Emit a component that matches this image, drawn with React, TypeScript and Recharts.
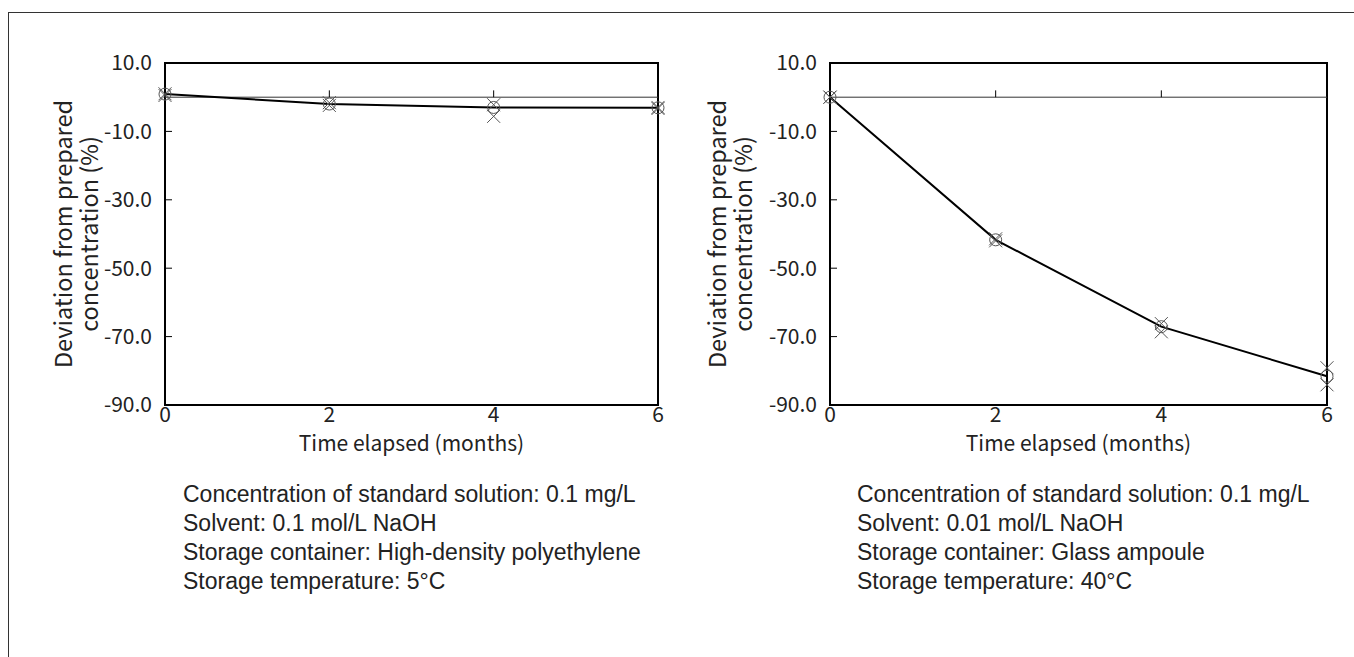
import React from "react"
import {
  LineChart,
  Line,
  XAxis,
  YAxis,
  ReferenceArea,
  ReferenceLine,
} from "recharts"

const months = [0, 2, 4, 6]
const xTicks = [0, 2, 4, 6]
const yTicks = [10, -10, -30, -50, -70, -90]
const zeroTicks = [2, 4]

// HDPE, 5°C
const hdpeMean = [0.9, -2.0, -3.0, -3.1]
const hdpeRepA = [1.0, -1.6, -2.2, -3.0]
const hdpeRepB = [0.5, -2.4, -5.6, -3.3]

// glass ampoule, 40°C
const ampMean = [0, -41.7, -67.1, -81.6]
const ampRepA = [0, -41.4, -66.2, -79.1]
const ampRepB = [0, -42.0, -68.6, -84.1]

const leftNotes = [
  "Concentration of standard solution: 0.1 mg/L",
  "Solvent: 0.1 mol/L NaOH",
  "Storage container: High-density polyethylene",
  "Storage temperature: 5°C",
]
const rightNotes = [
  "Concentration of standard solution: 0.1 mg/L",
  "Solvent: 0.01 mol/L NaOH",
  "Storage container: Glass ampoule",
  "Storage temperature: 40°C",
]

const CHART_FONT = "'Noto Sans CJK JP', 'Noto Sans', sans-serif"
const NOTE_FONT = "'Liberation Sans', Arial, sans-serif"

const makeRows = (mean: number[], a: number[], b: number[]) =>
  months.map((m, i) => ({ month: m, mean: mean[i], a: a[i], b: b[i] }))

const XMark = (props: any) => {
  const { cx, cy, index } = props
  if (cx == null || cy == null) return <g key={`n-${index}`} />
  const s = 6.5
  return (
    <g key={`x-${index}`} stroke="#555" strokeWidth={1}>
      <line x1={cx - s} y1={cy - s} x2={cx + s} y2={cy + s} />
      <line x1={cx - s} y1={cy + s} x2={cx + s} y2={cy - s} />
    </g>
  )
}

function Panel({
  rows,
  left,
  rightMargin,
  titleOffset,
}: {
  rows: any[]
  left: number
  rightMargin: number
  titleOffset: number
}) {
  const yTitle = (props: any) => {
    const vb = props.viewBox
    const cy = vb.y + vb.height / 2
    const x1 = vb.x + vb.width + titleOffset
    const x2 = x1 + 26
    return (
      <g fontFamily={CHART_FONT} fontSize={23.5} fill="#222">
        <text x={x1} y={cy} textAnchor="middle" dominantBaseline="central" transform={`rotate(-90 ${x1} ${cy})`}>
          Deviation from prepared
        </text>
        <text x={x2} y={cy} textAnchor="middle" dominantBaseline="central" transform={`rotate(-90 ${x2} ${cy})`}>
          concentration (%)
        </text>
      </g>
    )
  }

  return (
    <div style={{ position: "absolute", left, top: 0 }}>
      <LineChart
        width={700}
        height={500}
        data={rows}
        margin={{ top: 63, right: rightMargin, bottom: 65, left: 105 }}
      >
        <XAxis
          dataKey="month"
          type="number"
          domain={[0, 6]}
          ticks={xTicks}
          axisLine={false}
          tickLine={false}
          tickSize={0}
          tickMargin={2}
          height={30}
          tick={{ fontSize: 21, fill: "#222", fontFamily: CHART_FONT }}
          label={{
            value: "Time elapsed (months)",
            position: "bottom",
            offset: 1,
            fontSize: 21,
            fill: "#222",
            fontFamily: CHART_FONT,
          }}
        />
        <YAxis
          type="number"
          domain={[-90, 10]}
          ticks={yTicks}
          interval={0}
          width={60}
          axisLine={false}
          tickLine={{ stroke: "#000", strokeWidth: 1 }}
          tickSize={-7}
          tickMargin={20}
          tickFormatter={(v: number) => v.toFixed(1)}
          tick={{ fontSize: 21, fill: "#222", fontFamily: CHART_FONT }}
          label={{ content: yTitle }}
        />
        <ReferenceLine y={0} stroke="#333" strokeWidth={1} />
        {zeroTicks.map((t) => (
          <ReferenceLine
            key={t}
            segment={[
              { x: t, y: 0 },
              { x: t, y: 2 },
            ]}
            stroke="#000"
            strokeWidth={1}
          />
        ))}
        <ReferenceArea
          x1={0}
          x2={6}
          y1={-90}
          y2={10}
          fill="none"
          stroke="#000"
          strokeWidth={2}
          fillOpacity={0}
        />
        <Line dataKey="a" stroke="none" dot={XMark} activeDot={false} isAnimationActive={false} />
        <Line dataKey="b" stroke="none" dot={XMark} activeDot={false} isAnimationActive={false} />
        <Line
          dataKey="mean"
          stroke="#000"
          strokeWidth={2}
          dot={{ r: 6, fill: "none", stroke: "#555", strokeWidth: 1 }}
          activeDot={false}
          isAnimationActive={false}
        />
      </LineChart>
    </div>
  )
}

function Notes({ lines, left }: { lines: string[]; left: number }) {
  return (
    <div
      style={{
        position: "absolute",
        left,
        top: 480,
        fontFamily: NOTE_FONT,
        fontSize: 23,
        lineHeight: "29px",
        color: "#222",
        whiteSpace: "nowrap",
      }}
    >
      {lines.map((l) => (
        <div key={l}>{l}</div>
      ))}
    </div>
  )
}

export default function App() {
  return (
    <div
      style={{
        position: "absolute",
        left: 0,
        top: 0,
        width: 1354,
        height: 657,
        overflow: "hidden",
        background: "#fff",
      }}
    >
      <div
        style={{
          position: "absolute",
          left: 8,
          top: 12,
          width: 1400,
          height: 700,
          borderLeft: "1px solid #333",
          borderTop: "1px solid #333",
        }}
      />
      <Panel
        rows={makeRows(hdpeMean, hdpeRepA, hdpeRepB)}
        left={0}
        rightMargin={42}
        titleOffset={-103}
      />
      <Panel
        rows={makeRows(ampMean, ampRepA, ampRepB)}
        left={665}
        rightMargin={38}
        titleOffset={-114}
      />
      <Notes lines={leftNotes} left={183} />
      <Notes lines={rightNotes} left={857} />
    </div>
  )
}
